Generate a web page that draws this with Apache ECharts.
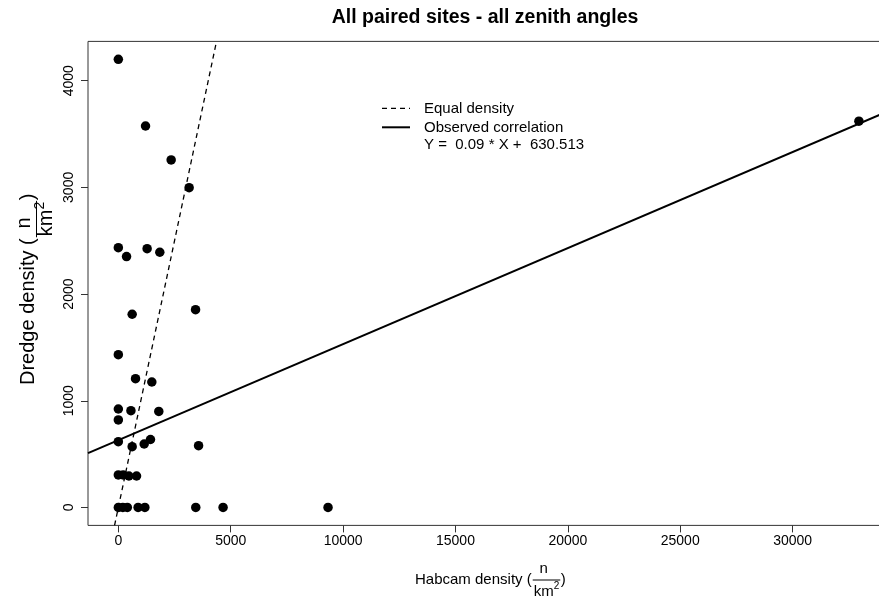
<!DOCTYPE html>
<html>
<head>
<meta charset="utf-8">
<script src="https://cdn.jsdelivr.net/npm/echarts@6/dist/echarts.min.js"></script>
<style>
  html, body { margin: 0; padding: 0; background: #fff; }
  #chart { width: 879px; height: 601px; }
</style>
</head>
<body>
<div id="chart"></div>
<script>
// Paired densities per site (n / km^2)
const habcam = [0, 1210, 2350, 3150, 0, 365, 1280, 1845, 615, 3435,
                0, 765, 1490, 0, 0, 560, 1800, 0, 615, 1150,
                1430, 3570, 0, 215, 470, 810, 0, 200, 400, 880,
                1180, 3445, 4660, 9330, 32950];
const dredge = [4200, 3575, 3257, 2997, 2435, 2351, 2425, 2392, 1811, 1854,
                1432, 1207, 1176, 923, 820, 907, 900, 617, 570, 595,
                637, 579, 305, 305, 295, 295, 0, 0, 0, 0,
                0, 0, 0, 0, 3620];

// Linear fit of dredge on habcam
const fitSlope = 0.09;
const fitIntercept = 630.513;

// Axis ranges and tick labels
const xRange = [-1350, 34200];
const yRange = [-168, 4368];
const xTicks = [0, 5000, 10000, 15000, 20000, 25000, 30000];
const yTicks = [0, 1000, 2000, 3000, 4000];

const FONT = '"Liberation Sans", Arial, Helvetica, sans-serif';
const INK = '#000';

const points = habcam.map((x, i) => [x, dredge[i]]);
const equalLine = [[yRange[0], yRange[0]], [yRange[1], yRange[1]]];
const fitLine = xRange.map(x => [x, fitIntercept + fitSlope * x]);

// text width helper for laying out the fraction labels
const measureCtx = document.createElement('canvas').getContext('2d');
function textWidth(t, size) {
  measureCtx.font = size + 'px ' + FONT;
  return measureCtx.measureText(t).width;
}

function txt(text, x, y, size, align, weight) {
  return {
    type: 'text', x: x, y: y, silent: true,
    style: {
      text: text, font: (weight ? weight + ' ' : '') + size + 'px ' + FONT, fill: INK,
      textAlign: align, align: align,
      textVerticalAlign: 'middle', verticalAlign: 'middle'
    }
  };
}

// "<lead> (n / km^2)" built from pieces
function fractionLabel(lead, size, ox, oy, rotation, off) {
  const supSize = Math.round(size * 0.68);
  const wLead = textWidth(lead, size);
  const wN = textWidth('n', size);
  const wKm = textWidth('km', size);
  const wSup = textWidth('2', supSize);
  const x0 = wLead + 1;
  const fw = Math.max(wN, wKm + wSup) + 2;
  const kmX = x0 + (fw - wKm - wSup) / 2;
  return {
    type: 'group', x: ox, y: oy, rotation: rotation, silent: true,
    children: [
      txt(lead, 0, 0, size, 'left'),
      txt('n', kmX + wKm / 2, off.num, size, 'center'),
      { type: 'line', silent: true,
        shape: { x1: x0, y1: off.bar, x2: x0 + fw, y2: off.bar },
        style: { stroke: INK, lineWidth: 1 } },
      txt('km', kmX, off.den, size, 'left'),
      txt('2', kmX + wKm, off.sup, supSize, 'left'),
      txt(')', x0 + fw + 0.5, 0, size, 'left')
    ]
  };
}

const plainNumber = v => String(v);
const legendX = 382;
const legendText = 'Y =  ' + fitSlope.toFixed(2) + ' * X +  ' + fitIntercept.toFixed(3);

const chart = echarts.init(document.getElementById('chart'), null, { renderer: 'canvas' });
chart.setOption({
  animation: false,
  backgroundColor: '#fff',
  grid: {
    left: 88, top: 41.4, width: 799, height: 484,
    show: true, borderColor: '#333', borderWidth: 1,
    containLabel: false, outerBoundsMode: 'none'
  },
  xAxis: {
    type: 'value', min: xRange[0], max: xRange[1],
    splitLine: { show: false },
    axisLine: { show: false, onZero: false },
    axisTick: { show: true, inside: false, length: 7, customValues: xTicks, lineStyle: { color: '#333' } },
    axisLabel: { customValues: xTicks, formatter: plainNumber, margin: 9,
                 fontSize: 14, color: INK, fontFamily: FONT }
  },
  yAxis: {
    type: 'value', min: yRange[0], max: yRange[1],
    splitLine: { show: false },
    axisLine: { show: false, onZero: false },
    axisTick: { show: true, inside: false, length: 7, customValues: yTicks, lineStyle: { color: '#333' } },
    axisLabel: { customValues: yTicks, formatter: plainNumber, margin: 12,
                 fontSize: 14, color: INK, fontFamily: FONT, rotate: 90 }
  },
  series: [
    {
      name: 'Equal density', type: 'line', data: equalLine,
      showSymbol: false, silent: true, clip: true,
      lineStyle: { color: INK, width: 1.3, type: [5, 4] }
    },
    {
      name: 'Observed correlation', type: 'line', data: fitLine,
      showSymbol: false, silent: true, clip: true,
      lineStyle: { color: INK, width: 2 }
    },
    {
      name: 'Sites', type: 'scatter', data: points,
      symbol: 'circle', symbolSize: 9.5,
      itemStyle: { color: INK, opacity: 1 }
    }
  ],
  graphic: [
    txt('All paired sites - all zenith angles', 485, 18, 19.5, 'center', 'bold'),
    // legend
    { type: 'line', silent: true, shape: { x1: legendX, y1: 108.3, x2: legendX + 28, y2: 108.3 },
      style: { stroke: INK, lineWidth: 1.3, lineDash: [5, 4] } },
    { type: 'line', silent: true, shape: { x1: legendX, y1: 127.3, x2: legendX + 28, y2: 127.3 },
      style: { stroke: INK, lineWidth: 2 } },
    txt('Equal density', 424, 109, 15, 'left'),
    txt('Observed correlation', 424, 127.5, 15, 'left'),
    txt(legendText, 424, 145, 15, 'left'),
    // axis titles
    fractionLabel('Habcam density (', 15, 415, 579.5, 0,
                  { num: -11, bar: 0.5, den: 12, sup: 7 }),
    fractionLabel('Dredge density (', 20, 28.5, 385, Math.PI / 2,
                  { num: -4, bar: 8, den: 18, sup: 12 })
  ]
});
</script>
</body>
</html>
